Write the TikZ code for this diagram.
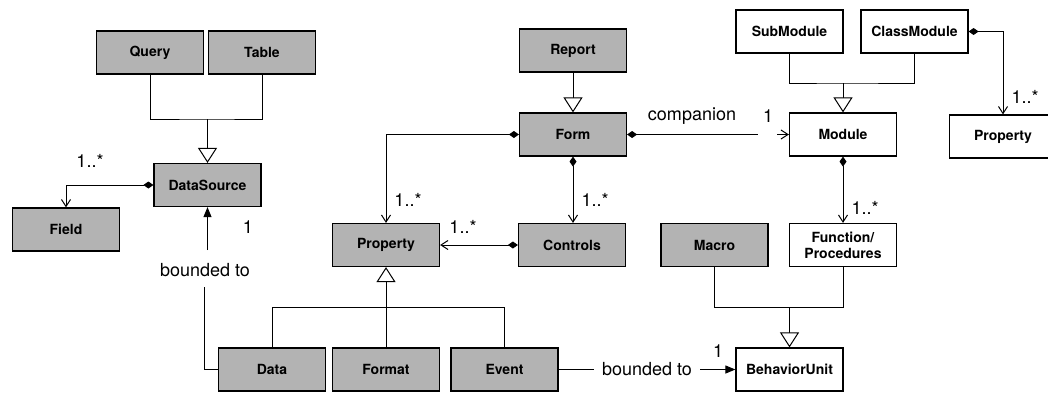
\documentclass[tikz,border=0pt]{standalone}
\usepackage{fontspec}
\setmainfont{TeX Gyre Heros}
\usetikzlibrary{arrows.meta}
\definecolor{boxgray}{RGB}{179,179,179}
\begin{document}
\begin{tikzpicture}[x=1pt,y=-1pt,
  cls/.style={draw, line width=1.2pt, minimum width=107pt, minimum height=43pt, inner sep=0pt,
    font=\bfseries\fontsize{14}{16}\selectfont, align=center},
  dark/.style={cls, fill=boxgray},
  light/.style={cls, fill=white},
  conn/.style={line width=1pt},
  gen/.style={conn, -{Triangle[open, length=15pt, width=19pt, fill=white]}},
  comp/.style={conn, {Diamond[length=10pt,width=7pt]}-{Straight Barb[length=7pt,width=9pt]}},
  compline/.style={conn, {Diamond[length=10pt,width=7pt]}-},
  nav/.style={conn, -{Straight Barb[length=7pt,width=9pt]}},
  bound/.style={conn, -{Triangle[length=10pt,width=8pt]}},
  lbl/.style={font=\fontsize{18}{20}\selectfont, inner sep=1pt},
]
\useasboundingbox (0,0) rectangle (1048,392);
\clip (0,0) rectangle (1048,392);

% classes
\node[dark] (Query) at (150,52.5) {Query};
\node[dark] (Table) at (262,52.5) {Table};
\node[dark] (DataSource) at (207.5,185) {DataSource};
\node[dark] (Field) at (66,229.5) {Field};
\node[dark] (Data) at (272,369.5) {Data};
\node[dark] (Format) at (386,369.5) {Format};
\node[dark] (Event) at (504.5,369.5) {Event};
\node[dark] (Property) at (386,245) {Property};
\node[dark] (Controls) at (572,245) {Controls};
\node[dark] (Report) at (573,50.5) {Report};
\node[dark] (Form) at (573,134.5) {Form};
\node[light] (Module) at (843,134.5) {Module};
\node[light] (SubModule) at (789.5,31.5) {SubModule};
\node[light] (ClassModule) at (914.5,31.5) {ClassModule};
\node[light] (PropertyB) at (1003,136.5) {Property};
\node[dark] (Macro) at (714.5,245) {Macro};
\node[light] (Function) at (843,245) {Function/\\Procedures};
\node[light] (BehaviorUnit) at (789.5,369.5) {BehaviorUnit};

% generalizations
\coordinate (gq) at (207.5,119);
\draw[conn] (Query.south) |- (gq) -| (Table.south);
\draw[gen] (gq) -- (DataSource.north);

\coordinate (gp) at (386,307);
\draw[conn] (Data.north) |- (gp) -| (Event.north);
\draw[gen] (Format.north) -- (Property.south);

\draw[gen] (Report.south) -- (Form.north);

\coordinate (gm) at (843,83);
\draw[conn] (SubModule.south) |- (gm) -| (ClassModule.south);
\draw[gen] (gm) -- (Module.north);

\coordinate (gb) at (789.5,307);
\draw[conn] (Macro.south) |- (gb) -| (Function.south);
\draw[gen] (gb) -- (BehaviorUnit.north);

% compositions
\draw[comp] (DataSource.west) -| (Field.north);
\node[lbl] (lf) at (90,161) {1..*};

\draw[comp] (Controls.west) -- (Property.east);
\node[lbl] (lpc) at (463,227) {1..*};

\draw[comp] (Form.west) -| (Property.north);
\node[lbl] (lfp) at (408,200) {1..*};

\draw[comp] (Form.south) -- (Form.south |- Controls.north);
\node[lbl] (lfc) at (595,200) {1..*};

\draw[comp] (ClassModule.east) -| (PropertyB.north);
\node[lbl] (lcp) at (1025,97) {1..*};

\draw[comp] (Module.south) -- (Function.north);
\node[lbl] (lmf) at (865,208) {1..*};

% companion
\coordinate (cg1) at (758,134.5);
\coordinate (cg2) at (777,134.5);
\draw[compline] (Form.east) -- (cg1);
\draw[nav] (cg2) -- (Module.west);
\node[lbl] (lcomp) at (692,116) {companion};
\node[lbl] (lone1) at (768,116) {1};

% bounded to (Data -> DataSource)
\node[lbl] (bdl) at (205,270) {bounded to};
\coordinate (bt1) at (204,287);
\coordinate (bt2) at (207.5,250);
\draw[conn] (Data.west) -| (bt1);
\draw[bound] (bt2) -- (DataSource.south);
\node[lbl] (lone2) at (248,227) {1};

% bounded to (Event -> BehaviorUnit)
\draw[bound] (Event.east) -- node[lbl, fill=white, inner xsep=8pt] (beb) {bounded to} (BehaviorUnit.west);
\node[lbl] (lone3) at (718,351) {1};
\end{tikzpicture}
\end{document}
